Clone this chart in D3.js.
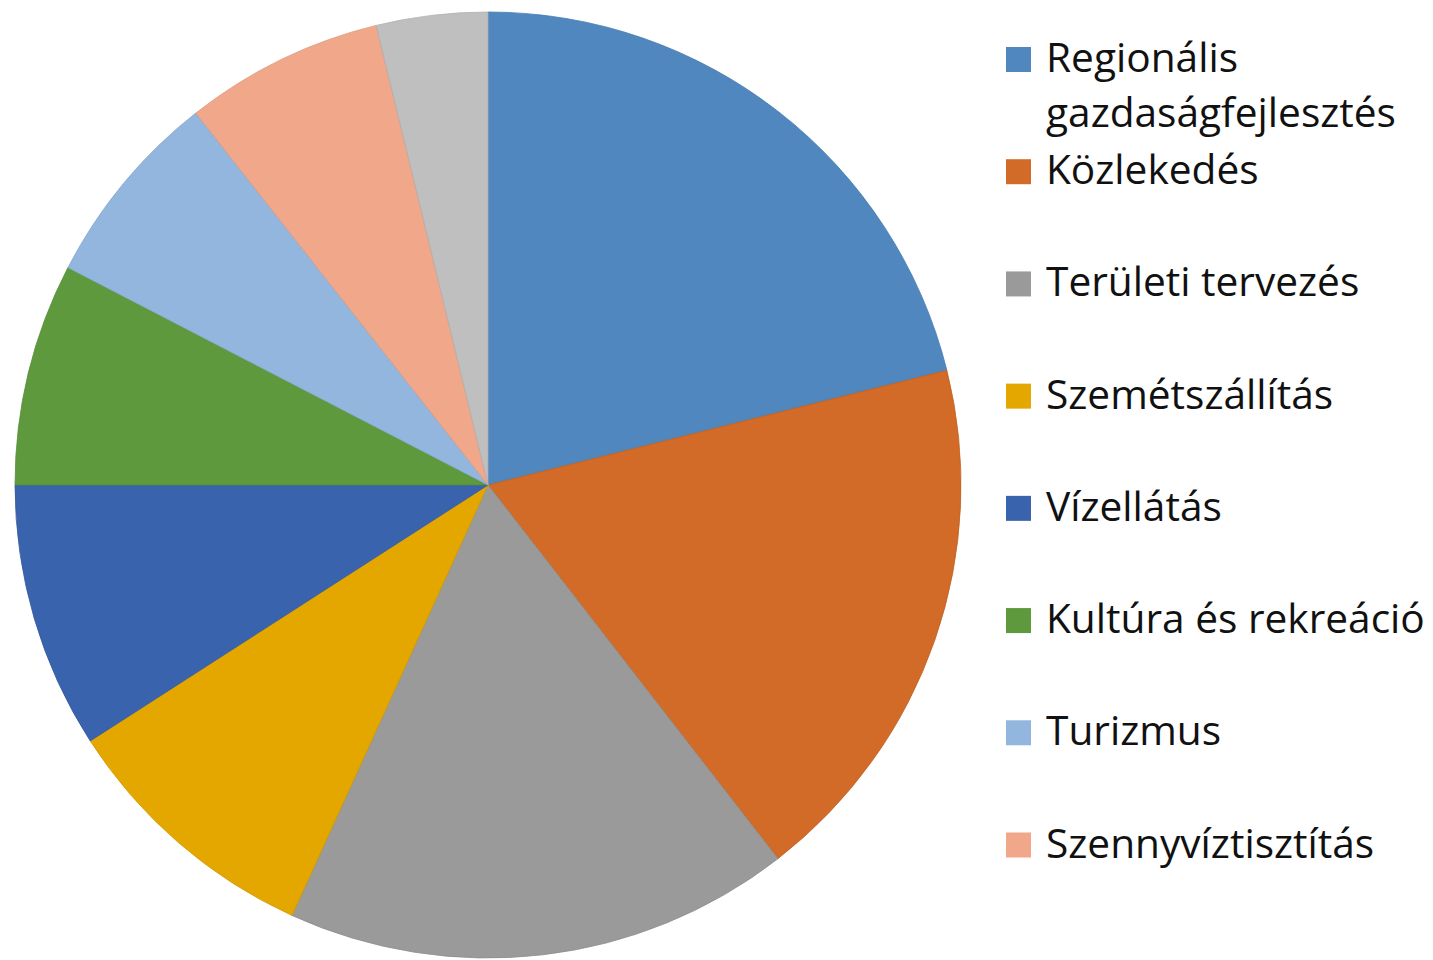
<!DOCTYPE html>
<html>
<head>
<meta charset="utf-8">
<script src="https://cdn.jsdelivr.net/npm/d3@7"></script>
<style>
  html, body { margin: 0; padding: 0; background: #ffffff; }
  svg { display: block; }
</style>
</head>
<body>
<svg id="chart" width="1433" height="960"></svg>
<script>
// Shares of spending by sector (percent), clockwise from 12 o'clock
const categories = [
  "Regionális gazdaságfejlesztés",
  "Közlekedés",
  "Területi tervezés",
  "Szemétszállítás",
  "Vízellátás",
  "Kultúra és rekreáció",
  "Turizmus",
  "Szennyvíztisztítás",
  "Egyéb"
];
const values = [21.1, 18.4, 17.3, 9.1, 9.1, 7.6, 6.8, 6.8, 3.8];
const colors = [
  "#4f87be", "#d16b27", "#9a9a9a", "#e3a700", "#3a63ad",
  "#5e9a3d", "#93b6de", "#f1a88a", "#bfbfbf"
];
// Legend lines (the first entry wraps onto two lines); the last slice has no legend entry
const legendLines = [
  ["Regionális", "gazdaságfejlesztés"],
  ["Közlekedés"],
  ["Területi tervezés"],
  ["Szemétszállítás"],
  ["Vízellátás"],
  ["Kultúra és rekreáció"],
  ["Turizmus"],
  ["Szennyvíztisztítás"]
];

const svg = d3.select("#chart");
const cx = 488, cy = 485, radius = 473;

const data = categories.map((c, i) => ({ name: c, value: values[i] }));
const color = d3.scaleOrdinal().domain(categories).range(colors);

const pie = d3.pie().sort(null).value(d => d.value).startAngle(0).endAngle(2 * Math.PI);
const arc = d3.arc().innerRadius(0).outerRadius(radius);

svg.append("g")
  .attr("transform", `translate(${cx},${cy})`)
  .selectAll("path")
  .data(pie(data))
  .join("path")
  .attr("d", arc)
  .attr("fill", d => color(d.data.name))
  .attr("stroke", d => d3.color(color(d.data.name)).darker(0.25))
  .attr("stroke-width", 0.8)
  .attr("stroke-linejoin", "round");

// Legend
const fontFamily = "'Open Sans', 'Noto Sans', 'Liberation Sans', sans-serif";
const legend = svg.append("g");

// Fit the font so the longest single line spans the legend column width
const probe = legend.append("text")
  .attr("font-family", fontFamily)
  .attr("font-size", 40)
  .text("Kultúra és rekreáció");
const probeWidth = probe.node().getComputedTextLength();
probe.remove();
const fontSize = 40 * 379 / probeWidth;

const legendX = 1006, textX = 1046, sq = 25;
const rowY = d3.scaleLinear().domain([0, 7]).range([59.5, 845]);
const lineGap = 55;

legendLines.forEach((lines, i) => {
  const yc = rowY(i);
  legend.append("rect")
    .attr("x", legendX)
    .attr("y", yc - sq / 2)
    .attr("width", sq)
    .attr("height", sq)
    .attr("fill", color(categories[i]));
  const t = legend.append("text")
    .attr("font-family", fontFamily)
    .attr("font-size", fontSize)
    .attr("fill", "#111111");
  lines.forEach((ln, j) => {
    t.append("tspan")
      .attr("x", textX)
      .attr("y", yc + 12.5 + j * lineGap)
      .text(ln);
  });
});
</script>
</body>
</html>
